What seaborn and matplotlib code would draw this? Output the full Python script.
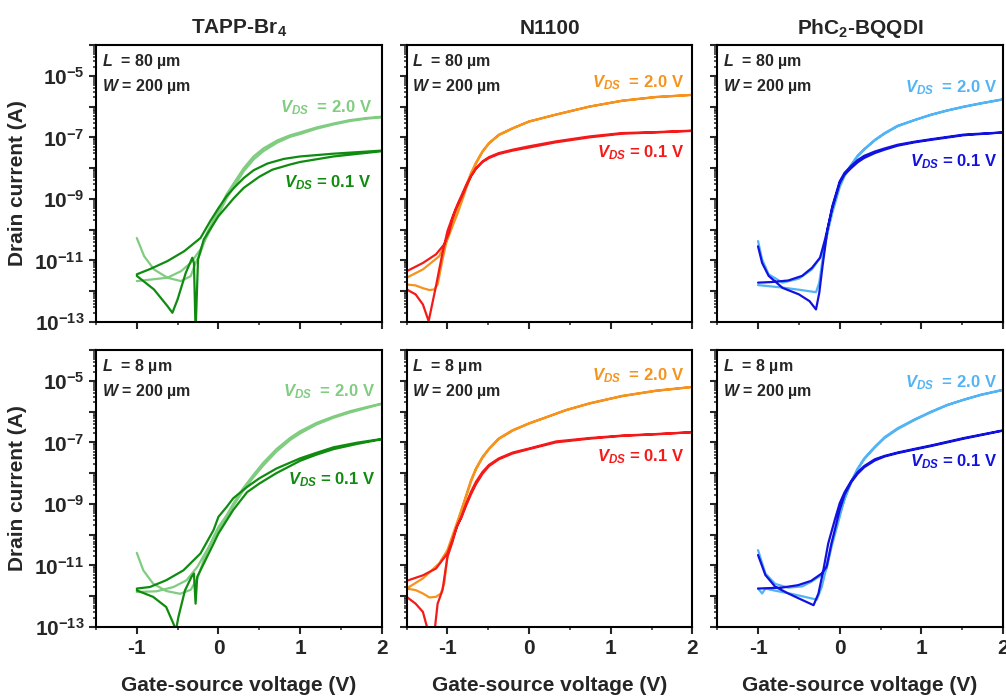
import numpy as np
import pandas as pd
import matplotlib.pyplot as plt
import seaborn as sns
from matplotlib.ticker import FixedLocator, FuncFormatter, LogLocator, MultipleLocator

# ---- data: gate voltage (V) and log10 of drain current (A)
# each list runs the forward sweep and then the reverse sweep

# TAPP-Br4, L = 80 um
tapp80_hi_v = [-1, -0.91, -0.79, -0.625, -0.46, -0.34, -0.28, -0.22, -0.14, 0, 0.1, 0.19, 0.31, 0.43, 0.55, 0.72, 0.88, 1.0, 1.2, 1.41, 1.61, 1.82, 2.0,
               2.0, 1.82, 1.61, 1.41, 1.2, 1.0, 0.88, 0.72, 0.55, 0.43, 0.31, 0.19, 0.1, 0, -0.1, -0.22, -0.34, -0.46, -0.625, -0.83, -1]
tapp80_hi_logi = [-10.27, -10.86, -11.29, -11.56, -11.67, -11.51, -11.08, -10.75, -10.1, -9.38, -8.85, -8.48, -8.0, -7.62, -7.36, -7.1, -6.93, -6.84, -6.68, -6.55, -6.44, -6.37, -6.33,
                  -6.35, -6.39, -6.47, -6.58, -6.72, -6.89, -6.98, -7.17, -7.45, -7.72, -8.1, -8.6, -8.98, -9.5, -10.0, -10.64, -11.08, -11.35, -11.56, -11.62, -11.67]
tapp80_lo_v = [-1, -0.83, -0.625, -0.42, -0.22, -0.1, 0, 0.1, 0.19, 0.31, 0.43, 0.6, 0.8, 1.0, 1.41, 2.0,
               2.0, 1.41, 1.0, 0.88, 0.66, 0.5, 0.31, 0.19, 0, -0.18, -0.25, -0.28, -0.3, -0.32, -0.4, -0.5, -0.564, -0.625, -0.79, -1]
tapp80_lo_logi = [-11.45, -11.27, -11.02, -10.7, -10.27, -9.72, -9.3, -8.91, -8.64, -8.32, -8.07, -7.85, -7.7, -7.62, -7.53, -7.43,
                  -7.45, -7.62, -7.8, -7.88, -8.05, -8.28, -8.64, -8.97, -9.56, -10.32, -10.97, -13.3, -11.08, -10.91, -11.4, -12.26, -12.7, -12.48, -11.94, -11.5]

# N1100, L = 80 um
n80_hi_v = [-1.5, -1.39, -1.3, -1.22, -1.16, -1.12, -1.06, -1.0, -0.94, -0.88, -0.83, -0.77, -0.71, -0.65, -0.57, -0.49, -0.37, -0.2, 0, 0.33, 0.74, 1.14, 1.55, 2.0,
            2.0, 1.55, 1.14, 0.74, 0.33, 0, -0.2, -0.37, -0.49, -0.57, -0.65, -0.71, -0.77, -0.83, -0.88, -0.94, -1.0, -1.1, -1.3, -1.5]
n80_hi_logi = [-11.78, -11.81, -11.9, -11.96, -11.94, -11.78, -10.97, -10.25, -9.75, -9.3, -8.97, -8.55, -8.15, -7.82, -7.45, -7.18, -6.91, -6.7, -6.48, -6.26, -6.0, -5.81, -5.69, -5.62,
               -5.62, -5.69, -5.81, -6.0, -6.26, -6.49, -6.71, -6.93, -7.2, -7.47, -7.85, -8.22, -8.66, -9.13, -9.5, -9.9, -10.32, -10.86, -11.29, -11.56]
n80_lo_v = [-1.5, -1.39, -1.3, -1.23, -1.2, -1.14, -1.06, -1.0, -0.94, -0.88, -0.83, -0.77, -0.71, -0.65, -0.57, -0.49, -0.37, -0.2, 0, 0.33, 0.74, 1.14, 1.55, 2.0,
            2.0, 1.55, 1.14, 0.74, 0.33, 0, -0.2, -0.37, -0.49, -0.57, -0.65, -0.71, -0.77, -0.83, -0.9, -0.94, -0.98, -1.04, -1.14, -1.3, -1.5]
n80_lo_logi = [-11.94, -12.1, -12.43, -12.97, -12.59, -11.83, -10.75, -10.05, -9.6, -9.2, -8.9, -8.55, -8.25, -8.02, -7.8, -7.67, -7.54, -7.43, -7.33, -7.16, -7.0, -6.88, -6.84, -6.79,
               -6.78, -6.83, -6.86, -6.97, -7.13, -7.29, -7.4, -7.51, -7.64, -7.78, -8.0, -8.26, -8.6, -8.97, -9.35, -9.67, -10.1, -10.48, -10.8, -11.08, -11.35]

# PhC2-BQQDI, L = 80 um
ph80_hi_v = [-1, -0.95, -0.87, -0.7, -0.5, -0.34, -0.24, -0.18, -0.09, 0, 0.06, 0.14, 0.22, 0.3, 0.43, 0.55, 0.71, 0.92, 1.12, 1.32, 1.52, 1.73, 2.0,
             2.0, 1.73, 1.52, 1.32, 1.12, 0.92, 0.71, 0.55, 0.43, 0.3, 0.22, 0.14, 0.06, 0, -0.09, -0.15, -0.21, -0.25, -0.29, -0.5, -0.7, -1]
ph80_hi_logi = [-10.37, -10.97, -11.45, -11.72, -11.59, -11.29, -10.91, -10.43, -9.45, -8.62, -8.25, -7.92, -7.62, -7.4, -7.1, -6.88, -6.64, -6.44, -6.27, -6.13, -6.01, -5.9, -5.77,
                -5.76, -5.89, -6.0, -6.12, -6.26, -6.43, -6.62, -6.86, -7.08, -7.38, -7.59, -7.89, -8.21, -8.49, -9.24, -10.1, -10.97, -11.72, -12.03, -11.95, -11.88, -11.8]
ph80_lo_v = [-1, -0.83, -0.63, -0.46, -0.34, -0.24, -0.18, -0.09, 0, 0.06, 0.14, 0.22, 0.3, 0.43, 0.55, 0.71, 0.92, 1.12, 1.52, 2.0,
             2.0, 1.52, 1.12, 0.92, 0.71, 0.55, 0.43, 0.3, 0.22, 0.14, 0.06, 0, -0.09, -0.15, -0.21, -0.25, -0.29, -0.37, -0.5, -0.7, -0.87, -0.95, -1]
ph80_lo_logi = [-11.72, -11.7, -11.65, -11.5, -11.24, -10.91, -10.32, -9.3, -8.49, -8.21, -8.0, -7.81, -7.67, -7.51, -7.4, -7.27, -7.16, -7.08, -6.93, -6.84,
                -6.84, -6.91, -7.06, -7.14, -7.24, -7.36, -7.46, -7.6, -7.74, -7.93, -8.15, -8.43, -9.24, -10.0, -11.18, -12.05, -12.59, -12.32, -12.1, -11.89, -11.5, -11.08, -10.54]

# TAPP-Br4, L = 8 um
tapp8_hi_v = [-1, -0.92, -0.8, -0.64, -0.47, -0.34, -0.26, -0.18, -0.06, 0, 0.1, 0.18, 0.3, 0.43, 0.55, 0.71, 0.88, 1.0, 1.2, 1.41, 1.61, 1.82, 2.0,
              2.0, 1.82, 1.61, 1.41, 1.2, 1.0, 0.88, 0.71, 0.55, 0.43, 0.3, 0.18, 0.1, 0, -0.14, -0.26, -0.39, -0.55, -0.76, -1]
tapp8_hi_logi = [-10.59, -11.16, -11.59, -11.83, -11.92, -11.79, -11.43, -10.83, -10.07, -9.75, -9.37, -9.0, -8.5, -8.05, -7.66, -7.22, -6.85, -6.64, -6.37, -6.16, -5.99, -5.85, -5.74,
                 -5.75, -5.88, -6.03, -6.2, -6.42, -6.71, -6.92, -7.3, -7.75, -8.13, -8.58, -9.07, -9.45, -9.85, -10.5, -11.05, -11.48, -11.7, -11.84, -11.86]
tapp8_lo_v = [-1, -0.84, -0.64, -0.43, -0.22, -0.06, 0, 0.1, 0.18, 0.35, 0.5, 0.71, 1.0, 1.2, 1.41, 1.7, 2.0,
              2.0, 1.7, 1.41, 1.2, 1.0, 0.71, 0.5, 0.35, 0.18, 0, -0.06, -0.18, -0.26, -0.28, -0.3, -0.33, -0.41, -0.49, -0.52, -0.55, -0.64, -0.8, -1]
tapp8_lo_logi = [-11.75, -11.7, -11.48, -11.16, -10.61, -9.85, -9.42, -9.1, -8.82, -8.45, -8.17, -7.85, -7.52, -7.34, -7.16, -7.01, -6.89,
                 -6.9, -7.05, -7.22, -7.4, -7.6, -8.0, -8.34, -8.62, -9.2, -9.96, -10.29, -10.94, -11.37, -12.24, -11.26, -11.37, -11.81, -12.67, -13.1, -12.9, -12.35, -12.02, -11.81]

# N1100, L = 8 um
n8_hi_v = [-1.5, -1.39, -1.3, -1.22, -1.14, -1.08, -1.04, -1.0, -0.9, -0.83, -0.77, -0.71, -0.65, -0.57, -0.49, -0.37, -0.2, 0, 0.2, 0.45, 0.74, 1.14, 1.55, 2.0,
           2.0, 1.55, 1.14, 0.74, 0.45, 0.2, 0, -0.2, -0.37, -0.49, -0.57, -0.65, -0.71, -0.77, -0.83, -0.9, -1.0, -1.1, -1.3, -1.5]
n8_hi_logi = [-11.75, -11.8, -11.91, -12.04, -12.02, -11.91, -11.59, -10.72, -9.85, -9.25, -8.76, -8.27, -7.88, -7.5, -7.22, -6.89, -6.62, -6.39, -6.2, -5.96, -5.74, -5.5, -5.33, -5.2,
              -5.2, -5.32, -5.49, -5.73, -5.95, -6.19, -6.38, -6.6, -6.87, -7.2, -7.47, -7.84, -8.22, -8.71, -9.2, -9.74, -10.5, -10.93, -11.42, -11.75]
n8_lo_v = [-1.5, -1.39, -1.3, -1.23, -1.16, -1.12, -1.06, -1.0, -0.94, -0.88, -0.83, -0.77, -0.71, -0.65, -0.57, -0.49, -0.37, -0.2, 0, 0.33, 0.74, 1.14, 1.55, 2.0,
           2.0, 1.55, 1.14, 0.74, 0.33, 0, -0.2, -0.37, -0.49, -0.57, -0.65, -0.71, -0.77, -0.83, -0.9, -0.94, -1.0, -1.14, -1.3, -1.5]
n8_lo_logi = [-12.02, -12.24, -12.51, -13.2, -13.2, -12.24, -11.8, -10.72, -10.25, -9.7, -9.45, -9.05, -8.68, -8.36, -8.02, -7.77, -7.55, -7.36, -7.22, -7.0, -6.88, -6.79, -6.74, -6.67,
              -6.67, -6.73, -6.78, -6.86, -6.97, -7.2, -7.33, -7.52, -7.73, -7.96, -8.28, -8.6, -8.98, -9.42, -9.85, -10.18, -10.61, -11.1, -11.32, -11.5]

# PhC2-BQQDI, L = 8 um
ph8_hi_v = [-1, -0.91, -0.79, -0.63, -0.46, -0.35, -0.22, -0.16, -0.1, 0, 0.06, 0.14, 0.22, 0.3, 0.43, 0.55, 0.71, 0.92, 1.12, 1.32, 1.52, 1.73, 2.0,
            2.0, 1.73, 1.52, 1.32, 1.12, 0.92, 0.71, 0.55, 0.43, 0.3, 0.22, 0.14, 0.06, 0, -0.1, -0.16, -0.22, -0.28, -0.46, -0.63, -0.79, -0.91, -0.95, -1]
ph8_hi_logi = [-10.5, -11.26, -11.6, -11.72, -11.68, -11.53, -11.31, -11.1, -10.4, -9.42, -8.82, -8.28, -7.85, -7.52, -7.14, -6.83, -6.54, -6.25, -6.0, -5.78, -5.62, -5.46, -5.3,
               -5.29, -5.45, -5.61, -5.79, -6.02, -6.27, -6.57, -6.86, -7.17, -7.55, -7.88, -8.3, -8.85, -9.31, -10.28, -11.04, -11.7, -12.11, -12.0, -11.9, -11.82, -11.75, -11.91, -11.75]
ph8_lo_v = [-1, -0.71, -0.51, -0.35, -0.22, -0.16, -0.1, 0, 0.06, 0.14, 0.22, 0.3, 0.43, 0.55, 0.71, 0.92, 1.12, 1.52, 2.0,
            2.0, 1.52, 1.12, 0.92, 0.71, 0.55, 0.43, 0.3, 0.22, 0.14, 0.06, 0, -0.06, -0.14, -0.2, -0.26, -0.32, -0.46, -0.63, -0.79, -0.91, -1]
ph8_lo_logi = [-11.75, -11.72, -11.64, -11.5, -11.26, -11.04, -10.28, -9.2, -8.7, -8.3, -8.02, -7.81, -7.59, -7.46, -7.35, -7.23, -7.12, -6.88, -6.62,
               -6.61, -6.86, -7.1, -7.21, -7.33, -7.44, -7.55, -7.77, -7.97, -8.26, -8.62, -8.98, -9.52, -10.28, -11.15, -11.91, -12.29, -12.12, -11.91, -11.69, -11.31, -10.66]

titles = ["TAPP-Br$_4$", "N1100", "PhC$_2$-BQQDI"]
lengths = ["80", "8"]
colors_hi = ["#80cc80", "#f5931e", "#52b4f5"]
colors_lo = ["#0f8c0f", "#f51a1a", "#1212e0"]

panels = [
    [(tapp80_hi_v, tapp80_hi_logi, tapp80_lo_v, tapp80_lo_logi),
     (n80_hi_v, n80_hi_logi, n80_lo_v, n80_lo_logi),
     (ph80_hi_v, ph80_hi_logi, ph80_lo_v, ph80_lo_logi)],
    [(tapp8_hi_v, tapp8_hi_logi, tapp8_lo_v, tapp8_lo_logi),
     (n8_hi_v, n8_hi_logi, n8_lo_v, n8_lo_logi),
     (ph8_hi_v, ph8_hi_logi, ph8_lo_v, ph8_lo_logi)],
]

# label placement (axes fraction): (x_right, y_2.0V, y_0.1V)
label_pos = [
    [(0.965, 0.773, 0.504), (0.972, 0.863, 0.61), (0.979, 0.845, 0.58)],
    [(0.976, 0.848, 0.533), (0.972, 0.906, 0.616), (0.979, 0.884, 0.598)],
]

sns.set_theme(style="ticks")
plt.rcParams['font.family'] = ['Liberation Sans', 'DejaVu Sans']
plt.rcParams['font.weight'] = 'bold'
plt.rcParams['mathtext.fontset'] = 'custom'
plt.rcParams['mathtext.rm'] = 'Liberation Sans:bold'
plt.rcParams['mathtext.bf'] = 'Liberation Sans:bold'
plt.rcParams['mathtext.it'] = 'Liberation Sans:italic:bold'
plt.rcParams['axes.unicode_minus'] = False

fig, axes = plt.subplots(2, 3, figsize=(10.06, 6.96), dpi=100, sharex=True, sharey=True)
fig.subplots_adjust(left=0.0954, right=0.997, bottom=0.0991, top=0.9353, wspace=0.087, hspace=0.101)


def log_label(val, pos):
    e = int(round(np.log10(val)))
    if e % 2 == 0:
        return ""
    return r"$10^{%d}$" % e


for r in range(2):
    for c in range(3):
        ax = axes[r, c]
        hv, hl, lv, ll = panels[r][c]
        df = pd.concat([
            pd.DataFrame({'V': hv, 'I': 10.0 ** np.array(hl), 'vds': '2.0'}),
            pd.DataFrame({'V': lv, 'I': 10.0 ** np.array(ll), 'vds': '0.1'}),
        ], ignore_index=True)
        sns.lineplot(data=df, x='V', y='I', hue='vds', palette={'2.0': colors_hi[c], '0.1': colors_lo[c]},
                     sort=False, estimator=None, legend=False, lw=1.6, ax=ax)

        ax.set_yscale('log')
        ax.set_ylim(1e-13, 1e-4)
        ax.set_xlim(-1.5, 2)
        ax.yaxis.set_major_locator(FixedLocator(10.0 ** np.arange(-13, -3)))
        ax.yaxis.set_major_formatter(FuncFormatter(log_label))
        ax.yaxis.set_minor_locator(LogLocator(base=10, subs=np.arange(2, 10), numticks=30))
        ax.xaxis.set_major_locator(MultipleLocator(1))
        ax.xaxis.set_minor_locator(MultipleLocator(0.5))
        ax.tick_params(which='major', direction='out', length=5, width=1.5, labelsize=15)
        ax.tick_params(which='minor', direction='out', length=2.5, width=1.1)
        for sp in ax.spines.values():
            sp.set_visible(True)
            sp.set_linewidth(1.5)
            sp.set_color('black')
        ax.set_xlabel("")
        ax.set_ylabel("")

        ax.text(0.02, 0.975, r"$L$  = %s µm" % lengths[r], transform=ax.transAxes,
                ha='left', va='top', fontsize=11.5, fontweight='bold')
        ax.text(0.02, 0.885, r"$W$ = 200 µm", transform=ax.transAxes,
                ha='left', va='top', fontsize=11.5, fontweight='bold')

        xr, yh, yl = label_pos[r][c]
        ax.text(xr, yh, r"$V_{DS}$  = 2.0 V", transform=ax.transAxes, ha='right', va='center',
                fontsize=12, fontweight='bold', color=colors_hi[c])
        ax.text(xr, yl, r"$V_{DS}$ = 0.1 V", transform=ax.transAxes, ha='right', va='center',
                fontsize=12, fontweight='bold', color=colors_lo[c])

        if r == 0:
            ax.set_title(titles[c], fontsize=15, fontweight='bold', pad=8)
        if c == 0:
            ax.set_ylabel("Drain current (A)", fontsize=15, fontweight='bold')
            ax.yaxis.set_label_coords(-0.24, 0.5)
        if r == 1:
            ax.set_xlabel("Gate-source voltage (V)", fontsize=15, fontweight='bold', labelpad=13)

fig.savefig("out.png", dpi=100)
